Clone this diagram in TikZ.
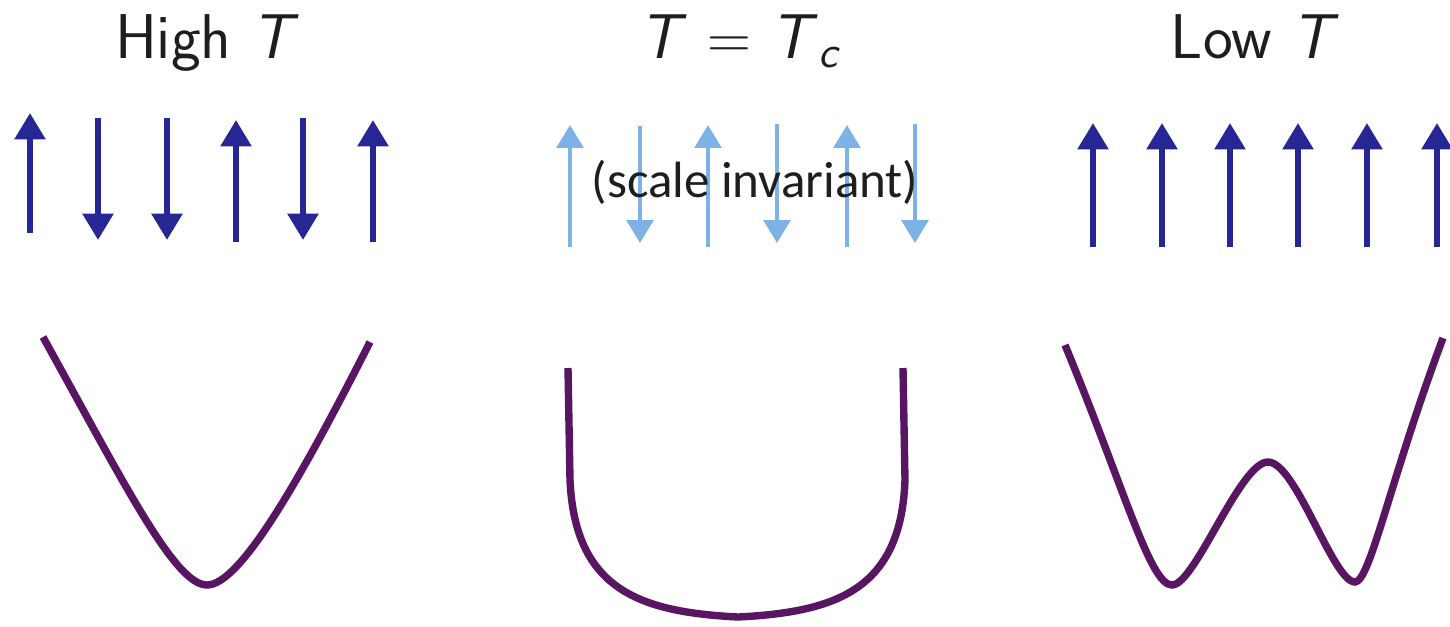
\documentclass[tikz,border=0pt]{standalone}
\usepackage{fontspec}
\usepackage{xcolor}
\usepackage{tikz}
\usetikzlibrary{arrows.meta}
\newfontfamily\scalefont{Carlito}
\definecolor{spindark}{RGB}{38,38,148}
\definecolor{spinlight}{RGB}{125,178,230}
\definecolor{potential}{RGB}{88,22,98}
\definecolor{ink}{RGB}{30,30,30}

\begin{document}
\begin{tikzpicture}[x=0.01cm,y=-0.01cm,
  spin/.style={-{Triangle[width=8.5pt,length=7.5pt]},spindark,line width=1.7pt},
  faint/.style={-{Triangle[width=7.5pt,length=6.5pt]},spinlight,line width=1.3pt},
  pot/.style={potential,line width=2.1pt},
  title/.style={font=\sffamily\fontsize{18}{21}\selectfont,text=ink,anchor=base,inner sep=0pt}]
\useasboundingbox (0,0) rectangle (1450,626);
\node[title](hightitle) at (207,58) {High \textit{T}};
\node[title](crittitle) at (741,58) {\textit{T} $=$ \textit{T}\textsubscript{\textit{c}}};
\node[title](lowtitle) at (1255,58) {Low \textit{T}};
\foreach \x/\a/\b in {30/233/113,98/118/240,167/118/240,236/242/120,303/118/240,373/242/120}
  \draw[spin](\x,\a)--(\x,\b);
\foreach \x/\a/\b in {570/247/125,640/126/243,708/247/125,777/124/243,847/247/125,915/124/243}
  \draw[faint](\x,\a)--(\x,\b);
\foreach \x in {1093,1162,1230,1298,1367,1437}
  \draw[spin](\x,247)--(\x,123);
\node[font=\scalefont\fontsize{14.5}{17}\selectfont,text=ink,anchor=base,inner sep=0pt](scaleinv) at (755,197) {(scale invariant)};
\draw[pot](43,337) .. controls (125,485) and (175,585) .. (207,585) .. controls (240,585) and (300,480) .. (370,342);
\draw[pot](568,368)--(570,480) .. controls (575,590) and (640,612) .. (738,617) .. controls (836,612) and (901,590) .. (905,480)--(903,368);
\draw[pot](1065,345) .. controls (1125,490) and (1150,585) .. (1172,585) .. controls (1195,585) and (1240,462) .. (1268,462) .. controls (1296,462) and (1333,582) .. (1355,582) .. controls (1370,582) and (1390,480) .. (1443,338);
\end{tikzpicture}
\end{document}
